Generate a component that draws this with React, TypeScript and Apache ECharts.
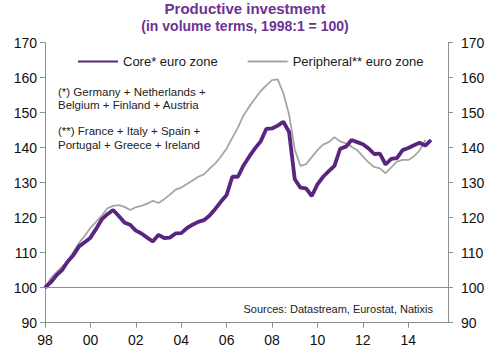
import React, { useEffect, useRef } from "react";
import * as echarts from "echarts";

const START_YEAR = 1998;
const yTicks = [90, 100, 110, 120, 130, 140, 150, 160, 170];
const xTickLabels = ["98", "00", "02", "04", "06", "08", "10", "12", "14"];

const coreName = "Core* euro zone";
const periphName = "Peripheral** euro zone";

// Quarterly values, 1998Q1 onward
const coreValues = [
  100, 101.5, 103.5, 105, 107.5, 109.3, 111.8, 113, 114.3, 116.8, 119.5, 121,
  122.2, 120.5, 118.6, 118, 116.3, 115.5, 114.3, 113.2, 115.1, 114.2, 114.3, 115.5,
  115.6, 117, 118, 118.8, 119.3, 120.6, 122.5, 124.6, 126.5, 131.7, 131.7, 135,
  137.5, 139.8, 141.8, 145.4, 145.5, 146.3, 147.4, 144.5, 131, 128.6, 128.4, 126.2,
  129.5, 131.7, 133.3, 134.8, 139.7, 140.3, 142.2, 141.6, 141, 139.8, 138.2, 138.3,
  135.2, 136.8, 137, 139.3, 139.9, 140.7, 141.4, 140.6, 142.2,
];

const periphValues = [
  100, 102.7, 104.4, 106, 107.6, 110.2, 112.8, 114.8, 117.1, 118.8, 120.6, 122.7,
  123.4, 123.6, 123.1, 122.2, 123, 123.4, 124, 124.8, 124.2, 125.3, 126.6, 128,
  128.6, 129.6, 130.6, 131.7, 132.4, 134, 135.5, 137.5, 139.8, 142.8, 145.8, 149.3,
  151.8, 154, 156.2, 157.8, 159.3, 159.5, 155.5, 149.5, 139.5, 134.8, 135.3, 137.3,
  139.3, 140.9, 141.6, 143, 141.8, 141.2, 140.3, 139.3, 137.5, 135.8, 134.5, 134.1,
  132.7, 134.4, 136, 136.5, 136.5, 137.5, 139.2, 142.2,
];

const noteLines1 = ["(*) Germany + Netherlands +", "Belgium + Finland + Austria"];
const noteLines2 = ["(**) France + Italy + Spain +", "Portugal + Greece + Ireland"];
const sourceText = "Sources: Datastream, Eurostat, Natixis";
const titleLine1 = "Productive investment";
const titleLine2 = "(in volume terms, 1998:1 = 100)";

const toPairs = (vals: number[]) => vals.map((v, i) => [START_YEAR + i / 4, v]);

const AXIS_COLOR = "#8f8f8f";
const CORE_COLOR = "#5a2580";
const PERIPH_COLOR = "#a5a5a5";
const TITLE_COLOR = "#6c3394";
const FONT = "Liberation Sans, Arial, sans-serif";

export default function App() {
  const ref = useRef<HTMLDivElement>(null);
  useEffect(() => {
    if (!ref.current) return;
    const chart = echarts.init(ref.current, undefined, { renderer: "svg" });
    const yAxisBase = {
      type: "value" as const,
      min: yTicks[0],
      max: yTicks[yTicks.length - 1],
      interval: 10,
      axisLine: { show: true, lineStyle: { color: AXIS_COLOR, width: 1 } },
      axisTick: { show: true, length: 5, lineStyle: { color: AXIS_COLOR } },
      splitLine: { show: false },
      axisLabel: { color: "#111", fontSize: 14, fontFamily: FONT },
    };
    chart.setOption({
      animation: false,
      textStyle: { fontFamily: FONT },
      grid: { left: 45, right: 52, top: 42.7, bottom: 34.3, containLabel: false },
      legend: {
        left: 72,
        top: 50,
        itemWidth: 40,
        itemHeight: 14,
        itemGap: 29,
        itemStyle: { opacity: 0 },
        textStyle: { fontSize: 13, color: "#1a1a1a", fontFamily: FONT },
        data: [coreName, periphName],
      },
      xAxis: {
        type: "value",
        min: 1998,
        max: 2015.75,
        interval: 2,
        axisLine: { show: true, onZero: false, lineStyle: { color: AXIS_COLOR } },
        axisTick: { show: true, length: 5, lineStyle: { color: AXIS_COLOR } },
        splitLine: { show: false },
        axisLabel: {
          color: "#111",
          fontSize: 14,
          fontFamily: FONT,
          margin: 10,
          showMaxLabel: false,
          formatter: (v: number) => {
            const idx = Math.round((v - 1998) / 2);
            return Math.abs(v - (1998 + idx * 2)) < 1e-6 && xTickLabels[idx] ? xTickLabels[idx] : "";
          },
        },
      },
      yAxis: [
        { ...yAxisBase, position: "left", axisLabel: { ...yAxisBase.axisLabel, margin: 8 } },
        { ...yAxisBase, position: "right", axisLabel: { ...yAxisBase.axisLabel, margin: 13 } },
      ],
      graphic: [
        {
          type: "text",
          x: 245,
          y: 1,
          style: {
            text: titleLine1,
            fill: TITLE_COLOR,
            font: `bold 15px ${FONT}`,
            textAlign: "center",
          },
        },
        {
          type: "text",
          x: 245,
          y: 19,
          style: {
            text: titleLine2,
            fill: TITLE_COLOR,
            font: `bold 14px ${FONT}`,
            textAlign: "center",
          },
        },
        {
          type: "text",
          x: 58,
          y: 85,
          style: {
            text: noteLines1.join("\n"),
            fill: "#222",
            font: `11.5px ${FONT}`,
            lineHeight: 13.5,
          },
        },
        {
          type: "text",
          x: 58,
          y: 124.5,
          style: {
            text: noteLines2.join("\n"),
            fill: "#222",
            font: `11.5px ${FONT}`,
            lineHeight: 13.5,
          },
        },
        {
          type: "text",
          x: 433,
          y: 303,
          style: {
            text: sourceText,
            fill: "#222",
            font: `11px ${FONT}`,
            textAlign: "right",
          },
        },
      ],
      series: [
        {
          name: periphName,
          type: "line",
          data: toPairs(periphValues),
          symbol: "none",
          lineStyle: { color: PERIPH_COLOR, width: 1.8 },
          itemStyle: { color: PERIPH_COLOR },
          z: 2,
          markLine: {
            silent: true,
            symbol: "none",
            label: { show: false },
            lineStyle: { color: AXIS_COLOR, width: 1, type: "solid" },
            data: [{ yAxis: 100 }],
          },
        },
        {
          name: coreName,
          type: "line",
          data: toPairs(coreValues),
          symbol: "none",
          lineStyle: { color: CORE_COLOR, width: 3.8 },
          itemStyle: { color: CORE_COLOR },
          z: 3,
        },
      ],
    });
    return () => chart.dispose();
  }, []);
  return (
    <div
      ref={ref}
      style={{ position: "absolute", left: 0, top: 0, width: 500, height: 357, background: "#fff" }}
    />
  );
}
